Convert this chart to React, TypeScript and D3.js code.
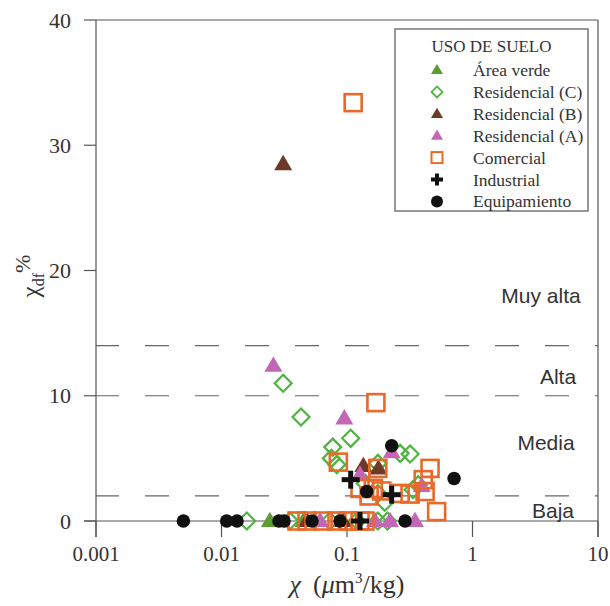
import React from "react";
import * as d3 from "d3";

type Pt = [number, number];

const areaVerde: Pt[] = [[0.0243, 0], [0.045, 0]];
const residencialC: Pt[] = [
  [0.031, 11.0], [0.043, 8.3], [0.107, 6.6], [0.077, 5.9], [0.075, 5.0], [0.083, 4.5],
  [0.265, 5.4], [0.318, 5.35], [0.176, 4.6], [0.176, 2.2], [0.2, 1.5], [0.336, 2.5],
  [0.37, 2.9], [0.14, 3.0], [0.0159, 0], [0.035, 0], [0.073, 0], [0.176, 0], [0.21, 0], [0.12, 0],
];
const residencialB: Pt[] = [[0.031, 28.5], [0.135, 4.4], [0.178, 4.2], [0.048, 0], [0.093, 0]];
const residencialA: Pt[] = [
  [0.0259, 12.4], [0.0952, 8.2], [0.227, 5.5], [0.127, 3.7], [0.394, 2.8],
  [0.167, 0], [0.22, 0], [0.348, 0], [0.061, 0],
];
const comercial: Pt[] = [
  [0.112, 33.4], [0.17, 9.45], [0.0853, 4.7], [0.176, 4.2], [0.127, 2.6], [0.162, 2.6],
  [0.189, 2.4], [0.265, 2.2], [0.318, 2.15], [0.459, 4.2], [0.405, 3.3], [0.419, 2.35],
  [0.518, 0.75], [0.15, 2.0], [0.04, 0], [0.048, 0], [0.0644, 0], [0.0832, 0], [0.1018, 0],
  [0.127, 0], [0.139, 0],
];
const industrial: Pt[] = [[0.107, 3.3], [0.227, 2.1], [0.127, 0]];
const equipamiento: Pt[] = [
  [0.00497, 0], [0.011, 0], [0.0133, 0], [0.0287, 0], [0.0315, 0], [0.0526, 0],
  [0.0879, 0], [0.29, 0], [0.1436, 2.35], [0.227, 6.0], [0.713, 3.4],
];

const xTicks = [0.001, 0.01, 0.1, 1, 10];
const xTickLabels = ["0.001", "0.01", "0.1", "1", "10"];
const yTicks = [0, 10, 20, 30, 40];
const thresholds = [2, 10, 14];
const zoneLabels = ["Baja", "Media", "Alta", "Muy alta"];
const zoneValues = [0.8, 6.2, 11.5, 18];
const legendLabels = [
  "Área verde", "Residencial (C)", "Residencial (B)", "Residencial (A)",
  "Comercial", "Industrial", "Equipamiento",
];

const GREEN_T = "#5c9c31";
const GREEN_D = "#4fb340";
const BROWN = "#6d3a27";
const PINK = "#c466b6";
const ORANGE = "#e8692a";
const BLACK = "#111";

type Kind = "tri" | "dia" | "sq" | "plus" | "circ";

function Marker({ kind, color, x, y, s }: { kind: Kind; color: string; x: number; y: number; s: number }) {
  if (kind === "tri") {
    const h = s * 0.85;
    return <path d={`M${x},${y - h * 0.6}L${x + s / 2},${y + h * 0.4}L${x - s / 2},${y + h * 0.4}Z`} fill={color} />;
  }
  if (kind === "dia") {
    const r = s / 2;
    return <path d={`M${x},${y - r}L${x + r},${y}L${x},${y + r}L${x - r},${y}Z`} fill="none" stroke={color} strokeWidth={s > 12 ? 2.2 : 1.8} />;
  }
  if (kind === "sq") {
    return <rect x={x - s / 2} y={y - s / 2} width={s} height={s} fill="none" stroke={color} strokeWidth={s > 12 ? 2.6 : 2} />;
  }
  if (kind === "plus") {
    const t = s > 12 ? 5 : 4;
    return (
      <g fill={color}>
        <rect x={x - s / 2} y={y - t / 2} width={s} height={t} />
        <rect x={x - t / 2} y={y - s / 2} width={t} height={s} />
      </g>
    );
  }
  return <circle cx={x} cy={y} r={s / 2} fill={color} />;
}

export default function App() {
  const W = 610, H = 606;
  const left = 96, right = 598, top = 20, y0 = 521;
  const x = d3.scaleLog().domain([0.001, 10]).range([left, right]);
  const y = d3.scaleLinear().domain([0, 40]).range([y0, top]);

  const series: { data: Pt[]; kind: Kind; color: string; size: number; lsize: number }[] = [
    { data: areaVerde, kind: "tri", color: GREEN_T, size: 18, lsize: 12 },
    { data: residencialC, kind: "dia", color: GREEN_D, size: 17, lsize: 11 },
    { data: residencialB, kind: "tri", color: BROWN, size: 18, lsize: 12 },
    { data: residencialA, kind: "tri", color: PINK, size: 18, lsize: 12 },
    { data: comercial, kind: "sq", color: ORANGE, size: 17, lsize: 11 },
    { data: industrial, kind: "plus", color: BLACK, size: 18, lsize: 12 },
    { data: equipamiento, kind: "circ", color: BLACK, size: 13.5, lsize: 12 },
  ];

  const serif = "'Liberation Serif', 'DejaVu Serif', serif";
  const sans = "'Liberation Sans', Arial, sans-serif";
  const axisColor = "#555";
  const zoneCenters = [553, 546, 558, 541];

  const lgX = 395, lgY = 29, lgW = 193, lgH = 182;

  return (
    <svg width={W} height={H} style={{ position: "absolute", left: 0, top: 0, background: "#fff" }}>
      {thresholds.map((t) => (
        <line key={t} x1={left} x2={right} y1={y(t)} y2={y(t)} stroke="#666" strokeWidth={1.2} strokeDasharray="24 26" strokeDashoffset={1} />
      ))}
      <line x1={left} x2={right} y1={top} y2={top} stroke={axisColor} strokeWidth={1.2} />
      <line x1={left} x2={left} y1={top} y2={537} stroke={axisColor} strokeWidth={1.2} />
      <line x1={right} x2={right} y1={top} y2={537} stroke={axisColor} strokeWidth={1.2} />
      <line x1={84} x2={right} y1={y0} y2={y0} stroke={axisColor} strokeWidth={1.2} />
      {yTicks.map((t) => (
        <g key={t}>
          <line x1={84} x2={left} y1={y(t)} y2={y(t)} stroke={axisColor} strokeWidth={1.2} />
          <text x={71} y={y(t) + 7.5} textAnchor="end" fontFamily={serif} fontSize={22} fill="#333">{t}</text>
        </g>
      ))}
      {xTicks.map((t, i) => (
        <g key={t}>
          <line x1={x(t)} x2={x(t)} y1={y0} y2={537} stroke={axisColor} strokeWidth={1.2} />
          <text x={x(t)} y={561} textAnchor="middle" fontFamily={serif} fontSize={21} fill="#333">{xTickLabels[i]}</text>
        </g>
      ))}
      <text x={347} y={593} textAnchor="middle" fontFamily={serif} fontSize={26} fill="#333">
        <tspan fontStyle="italic">χ</tspan>
        <tspan dx={12}>(</tspan>
        <tspan fontStyle="italic">μ</tspan>
        <tspan>m</tspan>
        <tspan fontSize={15} dy={-10}>3</tspan>
        <tspan dy={10}>/kg)</tspan>
      </text>
      <text transform="translate(39,276) rotate(-90)" textAnchor="middle" fontFamily={serif} fontSize={25} fill="#333">
        <tspan>χ</tspan>
        <tspan fontSize={16} dy={5}>df</tspan>
        <tspan dy={-14} fontSize={22}>%</tspan>
      </text>
      {zoneLabels.map((l, i) => (
        <text key={l} x={zoneCenters[i]} y={y(zoneValues[i]) + 7} textAnchor="middle" fontFamily={sans} fontSize={21} fill="#333">{l}</text>
      ))}
      {series.map((s, si) => (
        <g key={si}>
          {s.data.map((p, i) => (
            <Marker key={i} kind={s.kind} color={s.color} x={x(p[0])} y={y(p[1])} s={s.size} />
          ))}
        </g>
      ))}
      <rect x={lgX} y={lgY} width={lgW} height={lgH} fill="#fff" stroke="#777" strokeWidth={1.5} />
      <text x={lgX + lgW / 2} y={52} textAnchor="middle" fontFamily={serif} fontSize={17} fill="#333">USO DE SUELO</text>
      {series.map((s, i) => {
        const ry = 70 + i * 21.9;
        return (
          <g key={i}>
            <Marker kind={s.kind} color={s.color} x={437} y={ry} s={s.lsize} />
            <text x={473} y={ry + 6} fontFamily={serif} fontSize={17.5} fill="#333">{legendLabels[i]}</text>
          </g>
        );
      })}
    </svg>
  );
}
